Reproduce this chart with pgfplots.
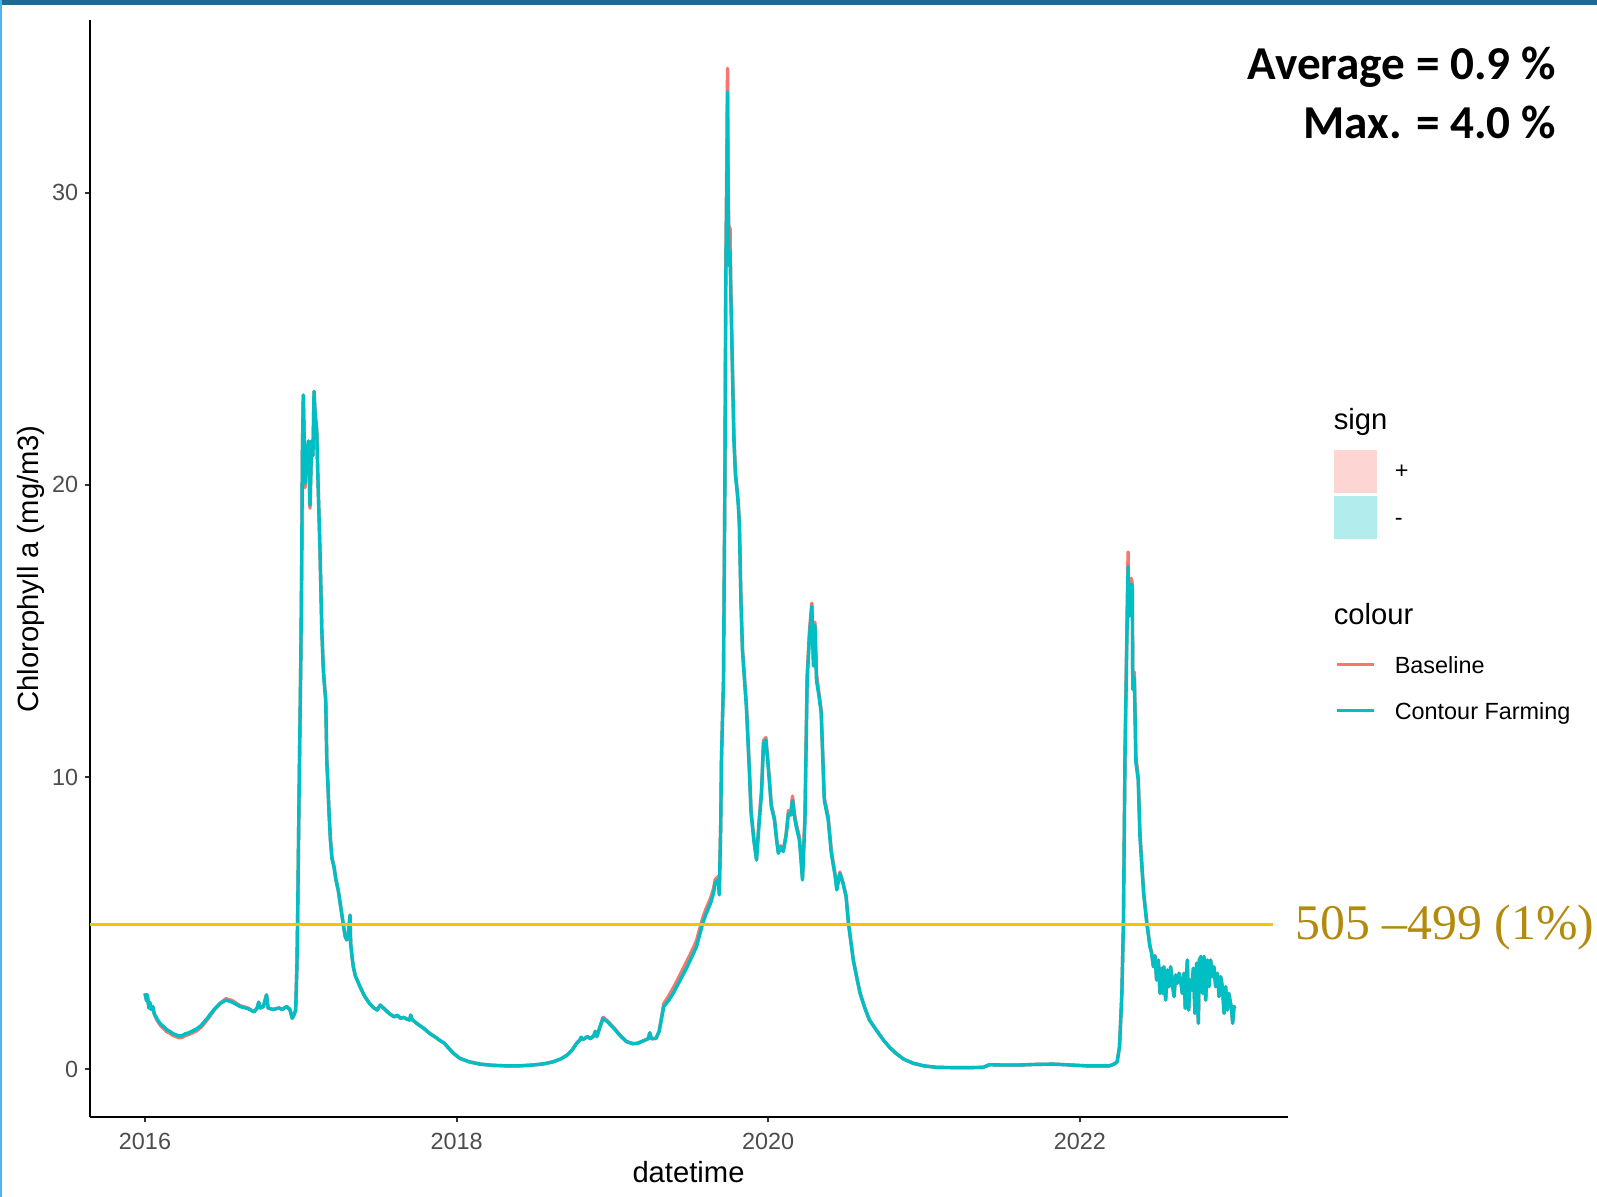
\documentclass[border=0pt]{standalone}
\usepackage{pgfplots}
\pgfplotsset{compat=1.18}
\usepackage{pgfplotstable}
\usepackage{fontspec}
\setmainfont{Liberation Sans}
\newfontfamily\carlito{Carlito}
\newfontfamily\serifgold{Liberation Serif}
\definecolor{ggred}{HTML}{F8766D}
\definecolor{ggcyan}{HTML}{00BFC4}
\definecolor{pinkbox}{HTML}{FDD6D3}
\definecolor{cyanbox}{HTML}{B3ECED}
\definecolor{goldline}{HTML}{FFC000}
\definecolor{goldtext}{HTML}{B38A0C}
\definecolor{topband}{HTML}{24688F}
\definecolor{leftband}{HTML}{4FB3E8}
\definecolor{grey30}{HTML}{4D4D4D}

\pgfplotstableread{
t cf base
0.000 2.60 2.60
0.010 2.35 2.35
0.015 2.55 2.55
0.025 2.10 2.10
0.030 2.30 2.30
0.040 2.05 2.05
0.050 2.15 2.15
0.060 1.90 1.88
0.080 1.70 1.66
0.100 1.55 1.50
0.120 1.46 1.40
0.140 1.35 1.29
0.160 1.30 1.24
0.180 1.22 1.16
0.200 1.18 1.12
0.220 1.14 1.08
0.240 1.16 1.10
0.260 1.22 1.16
0.280 1.25 1.19
0.300 1.30 1.24
0.330 1.38 1.32
0.360 1.50 1.44
0.400 1.75 1.70
0.440 2.03 2.00
0.480 2.25 2.25
0.520 2.37 2.42
0.560 2.30 2.35
0.610 2.15 2.18
0.660 2.08 2.10
0.700 1.97 1.97
0.720 2.10 2.10
0.730 2.30 2.30
0.740 2.10 2.10
0.760 2.15 2.15
0.780 2.55 2.55
0.790 2.10 2.10
0.820 2.05 2.05
0.860 2.10 2.10
0.880 2.05 2.05
0.910 2.15 2.15
0.930 2.05 2.05
0.945 1.75 1.75
0.955 1.85 1.85
0.967 2.03 2.03
0.975 3.50 3.50
0.980 5.30 5.30
0.990 9.90 9.90
1.000 14.0 14.0
1.006 17.4 17.4
1.010 21.0 21.0
1.016 23.07 23.07
1.022 21.5 21.5
1.027 20.05 19.9
1.035 21.0 21.0
1.040 20.4 20.4
1.048 21.5 21.5
1.053 20.6 20.6
1.059 19.3 19.2
1.065 20.5 20.5
1.070 21.5 21.5
1.078 21.0 21.0
1.085 23.2 23.2
1.092 22.4 22.4
1.102 21.9 21.9
1.110 20.2 20.2
1.123 17.8 17.8
1.135 15.0 15.0
1.145 13.6 13.7
1.155 12.9 13.0
1.160 12.6 12.7
1.167 10.5 10.6
1.175 9.6 9.7
1.180 8.9 8.9
1.190 7.85 7.9
1.200 7.2 7.25
1.213 6.93 6.95
1.225 6.5 6.5
1.240 6.14 6.14
1.255 5.6 5.6
1.275 4.88 4.88
1.285 4.55 4.55
1.295 4.43 4.43
1.305 4.6 4.6
1.316 5.28 5.28
1.320 4.31 4.31
1.330 3.80 3.80
1.337 3.51 3.51
1.350 3.20 3.20
1.380 2.83 2.83
1.410 2.50 2.50
1.440 2.26 2.26
1.470 2.10 2.10
1.490 2.03 2.03
1.510 2.20 2.20
1.540 2.05 2.05
1.570 1.90 1.90
1.600 1.80 1.80
1.620 1.85 1.85
1.640 1.75 1.75
1.660 1.78 1.78
1.680 1.72 1.72
1.700 1.69 1.69
1.705 1.86 1.86
1.715 1.70 1.70
1.750 1.55 1.55
1.790 1.40 1.40
1.830 1.22 1.22
1.870 1.08 1.08
1.890 1.00 1.00
1.920 0.90 0.90
1.950 0.72 0.72
1.980 0.55 0.55
2.020 0.38 0.38
2.080 0.26 0.26
2.150 0.18 0.18
2.230 0.14 0.14
2.320 0.12 0.12
2.400 0.12 0.12
2.490 0.15 0.15
2.560 0.19 0.19
2.620 0.26 0.26
2.670 0.36 0.36
2.710 0.49 0.49
2.740 0.65 0.65
2.770 0.89 0.89
2.790 1.00 1.00
2.800 1.10 1.10
2.810 1.02 1.02
2.840 1.12 1.12
2.860 1.05 1.05
2.880 1.15 1.15
2.890 1.30 1.30
2.900 1.12 1.12
2.920 1.45 1.45
2.940 1.75 1.78
2.970 1.62 1.65
3.010 1.40 1.42
3.050 1.15 1.17
3.090 0.95 0.96
3.130 0.88 0.88
3.160 0.89 0.89
3.200 0.98 0.98
3.230 1.05 1.05
3.240 1.25 1.25
3.250 1.05 1.05
3.280 1.06 1.06
3.300 1.30 1.30
3.310 1.58 1.62
3.330 2.15 2.25
3.360 2.35 2.50
3.390 2.60 2.78
3.420 2.90 3.08
3.450 3.20 3.40
3.480 3.51 3.72
3.510 3.85 4.05
3.540 4.20 4.40
3.560 4.60 4.80
3.580 5.00 5.18
3.600 5.30 5.48
3.630 5.68 5.85
3.650 6.05 6.20
3.660 6.37 6.50
3.680 6.48 6.60
3.686 5.97 6.05
3.695 8.30 8.30
3.700 10.6 10.6
3.713 13.3 13.3
3.722 20.0 20.3
3.728 27.0 27.6
3.735 30.5 31.5
3.739 33.45 34.25
3.743 29.5 30.2
3.748 27.5 28.6
3.755 28.0 28.8
3.760 26.5 26.8
3.770 24.0 24.2
3.780 21.5 21.7
3.790 20.3 20.4
3.800 19.8 19.9
3.808 19.3 19.4
3.815 18.6 18.7
3.825 16.0 16.1
3.835 14.3 14.4
3.848 13.3 13.4
3.860 12.4 12.5
3.880 10.1 10.2
3.890 8.76 8.85
3.910 7.74 7.8
3.925 7.16 7.2
3.940 8.30 8.4
3.957 9.45 9.55
3.970 11.16 11.25
3.985 11.27 11.35
4.000 10.36 10.45
4.020 8.99 9.05
4.040 8.53 8.6
4.055 7.80 7.85
4.065 7.39 7.45
4.080 7.60 7.65
4.097 7.45 7.5
4.115 8.00 8.05
4.130 8.76 8.85
4.145 8.70 8.8
4.156 9.20 9.35
4.170 8.60 8.7
4.180 8.30 8.4
4.200 7.85 7.95
4.210 7.20 7.3
4.220 6.48 6.55
4.236 8.53 8.7
4.250 13.3 13.5
4.265 14.8 15.0
4.280 15.85 15.95
4.290 13.8 14.0
4.300 15.2 15.3
4.310 13.3 13.5
4.325 12.8 12.9
4.340 12.2 12.3
4.360 9.20 9.3
4.385 8.53 8.65
4.405 7.39 7.5
4.430 6.60 6.65
4.440 6.14 6.2
4.460 6.70 6.75
4.480 6.37 6.4
4.500 5.90 5.95
4.515 5.00 5.02
4.546 3.74 3.76
4.570 3.10 3.11
4.590 2.60 2.61
4.620 2.10 2.10
4.650 1.69 1.69
4.700 1.30 1.30
4.740 1.00 1.00
4.780 0.75 0.75
4.820 0.55 0.55
4.870 0.35 0.35
4.930 0.21 0.21
5.000 0.12 0.12
5.080 0.07 0.07
5.200 0.06 0.06
5.300 0.06 0.06
5.380 0.07 0.07
5.420 0.16 0.16
5.500 0.15 0.15
5.610 0.15 0.15
5.720 0.17 0.17
5.830 0.18 0.18
5.940 0.15 0.15
6.050 0.12 0.12
6.190 0.12 0.12
6.220 0.18 0.18
6.240 0.26 0.26
6.255 0.78 0.78
6.270 2.60 2.60
6.280 5.00 5.00
6.290 10.6 10.8
6.300 14.0 14.3
6.310 17.2 17.7
6.316 15.5 15.8
6.322 15.8 16.1
6.330 16.6 16.8
6.337 16.4 16.6
6.340 13.0 13.2
6.350 13.4 13.6
6.360 10.5 10.7
6.375 9.90 10.0
6.386 7.96 8.1
6.400 6.8 6.9
6.410 6.00 6.05
6.430 5.00 5.05
6.450 4.20 4.25
6.461 3.97 4.0
6.472 3.51 3.55
6.483 3.86 3.9
6.493 3.06 3.06
6.504 3.74 3.74
6.515 2.60 2.60
6.526 3.46 3.46
6.532 2.60 2.60
6.540 3.51 3.51
6.551 2.37 2.37
6.562 3.40 3.40
6.573 2.83 2.83
6.583 3.51 3.51
6.594 2.95 2.95
6.605 2.49 2.49
6.615 3.23 3.23
6.626 2.95 2.95
6.637 3.29 3.29
6.647 3.06 3.06
6.658 2.60 2.60
6.669 3.29 3.29
6.677 2.09 2.09
6.690 3.74 3.74
6.699 2.03 2.03
6.707 3.06 3.06
6.718 2.72 2.72
6.729 3.46 3.46
6.739 1.92 1.92
6.750 3.63 3.63
6.761 1.58 1.58
6.767 3.74 3.74
6.778 3.86 3.86
6.789 2.60 2.60
6.797 3.86 3.86
6.808 2.37 2.37
6.819 3.74 3.74
6.829 2.83 2.83
6.840 3.74 3.74
6.851 3.17 3.17
6.861 3.51 3.51
6.872 2.83 2.83
6.883 3.29 3.29
6.894 2.49 2.49
6.904 3.17 3.17
6.915 2.83 2.83
6.926 1.92 1.92
6.936 2.83 2.83
6.947 2.03 2.03
6.956 2.60 2.60
6.964 2.37 2.37
6.975 2.03 2.03
6.981 1.58 1.58
6.990 2.15 2.15
6.996 2.09 2.09
}\datatable

\begin{document}
\begin{tikzpicture}
\path[use as bounding box] (0,0) rectangle (798.5pt,598.5pt);
\fill[white] (0,0) rectangle (798.5pt,598.5pt);
\fill[topband] (0,596.2pt) rectangle (798.5pt,598.5pt);
\fill[leftband] (0,0) rectangle (1pt,598.5pt);
\begin{axis}[
  at={(44.8pt,39.85pt)}, anchor=south west,
  scale only axis, width=599.4pt, height=548.45pt,
  xmin=-0.3556, xmax=7.339, ymin=-1.639, ymax=35.89,
  axis lines*=left,
  axis line style={-, line width=1pt, black},
  xtick={0,2,4,6}, xticklabels={2016,2018,2020,2022},
  ytick={0,10,20,30},
  xtick pos=left, ytick pos=left,
  tick align=outside, major tick length=2.5pt,
  tick style={line width=1pt, color=black!80},
  tick label style={font=\fontsize{11.7}{14}\selectfont, text=grey30},
  /pgf/number format/assume math mode=true,
  xticklabel style={inner sep=0pt, yshift=-5pt},
  yticklabel style={inner sep=0pt, xshift=-3pt},
  line join=round,
]
\addplot[ggred, line width=1.7pt] table[x=t,y=base]{\datatable};
\addplot[ggcyan, line width=1.7pt] table[x=t,y=cf]{\datatable};
\addplot[goldline, line width=1.6pt] coordinates {(-0.3556,4.97) (7.242,4.97)};
\end{axis}

% axis titles
\node[anchor=base, inner sep=0pt, font=\fontsize{14.6}{17}\selectfont] at (344.25pt,7.15pt) {datetime};
\node[rotate=90, inner sep=0pt, font=\fontsize{14.6}{17}\selectfont] at (15.25pt,314.05pt) {Chlorophyll a (mg/m3)};

% annotations
\node[anchor=base east, inner sep=0pt, font=\carlito\bfseries\fontsize{23.6}{28}\selectfont] at (778.2pt,558.8pt) {Average = 0.9 \%};
\node[anchor=base east, inner sep=0pt, font=\carlito\bfseries\fontsize{23.6}{28}\selectfont] at (778.2pt,529.25pt) {Max. = 4.0 \%};
\node[anchor=base west, inner sep=0pt, text=goldtext, font=\serifgold\fontsize{24.9}{29}\selectfont] at (647.5pt,128.5pt) {505 –499 (1\%)};

% legend
\node[anchor=base west, inner sep=0pt, font=\fontsize{14.6}{17}\selectfont] at (666.7pt,383.85pt) {sign};
\fill[pinkbox] (667pt,352.15pt) rectangle (688.3pt,373.5pt);
\fill[cyanbox] (667pt,329.15pt) rectangle (688.3pt,350.5pt);
\node[anchor=west, inner sep=0pt, font=\fontsize{11.7}{14}\selectfont] at (697.2pt,362.65pt) {+};
\node[anchor=west, inner sep=0pt, font=\fontsize{11.7}{14}\selectfont] at (697.2pt,337.35pt) {-};
\node[anchor=base west, inner sep=0pt, font=\fontsize{14.6}{17}\selectfont] at (666.7pt,286.15pt) {colour};
\draw[ggred, line width=1.5pt] (668.7pt,266pt) -- (687pt,266pt);
\draw[ggcyan, line width=1.5pt] (668.7pt,243pt) -- (687pt,243pt);
\node[anchor=base west, inner sep=0pt, font=\fontsize{11.7}{14}\selectfont] at (697.2pt,261.85pt) {Baseline};
\node[anchor=base west, inner sep=0pt, font=\fontsize{11.7}{14}\selectfont] at (697.2pt,238.85pt) {Contour Farming};
\end{tikzpicture}
\end{document}
